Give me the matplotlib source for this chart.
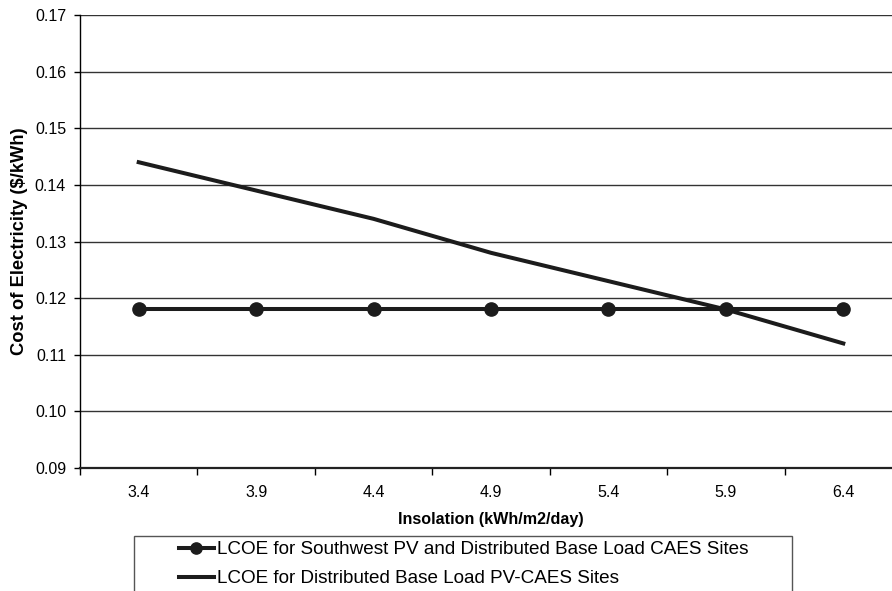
import matplotlib
matplotlib.use("Agg")
import matplotlib.pyplot as plt
from matplotlib.patches import Rectangle

plt.rcParams['font.family'] = ['Liberation Sans', 'DejaVu Sans']

insolation = ['3.4', '3.9', '4.4', '4.9', '5.4', '5.9', '6.4']
lcoe_southwest = [0.118, 0.118, 0.118, 0.118, 0.118, 0.118, 0.118]
lcoe_distributed = [0.144, 0.139, 0.134, 0.128, 0.123, 0.118, 0.112]
yticks = [0.09, 0.10, 0.11, 0.12, 0.13, 0.14, 0.15, 0.16, 0.17]

W, H = 892, 591
fig = plt.figure(figsize=(W / 100, H / 100), dpi=100)
ax = fig.add_axes([80 / W, 1 - 468 / H, (902 - 80) / W, (468 - 15) / H])

x = list(range(len(insolation)))
ax.plot(x, lcoe_southwest, color='#1c1c1c', lw=2.9, marker='o', ms=9.5,
        label='LCOE for Southwest PV and Distributed Base Load CAES Sites', zorder=3)
ax.plot(x, lcoe_distributed, color='#1c1c1c', lw=2.9,
        label='LCOE for Distributed Base Load PV-CAES Sites', zorder=3)

ax.set_xlim(-0.5, len(insolation) - 0.5)
ax.set_ylim(0.09, 0.17)
ax.set_yticks(yticks)
ax.set_yticklabels([f'{v:.2f}' for v in yticks], fontsize=11.5)
ax.set_xticks(x)
ax.set_xticklabels(insolation, fontsize=11.5)
ax.set_xticks([i + 0.5 for i in range(-1, len(insolation))], minor=True)
ax.tick_params(axis='x', which='major', length=0, pad=12)
ax.tick_params(axis='x', which='minor', length=5, width=1, direction='out')
ax.tick_params(axis='y', length=4, width=1, direction='out', pad=6)

ax.grid(axis='y', color='#333333', lw=1)
ax.set_axisbelow(True)
for s in ['top', 'right']:
    ax.spines[s].set_visible(False)
ax.spines['left'].set_linewidth(1)
ax.spines['bottom'].set_linewidth(1.6)
ax.spines['bottom'].set_color('#222222')

ax.set_xlabel('Insolation (kWh/m2/day)', fontsize=11.6, fontweight='bold', labelpad=9)
ax.set_ylabel('Cost of Electricity ($/kWh)', fontsize=13.2, fontweight='bold', labelpad=5)

# legend box runs off the bottom of the image
fig.patches.append(Rectangle((134 / W, -0.05), (792 - 134) / W, 1 - 536 / H + 0.05,
                             transform=fig.transFigure, fill=False,
                             edgecolor='#555555', lw=1))
handles, labels = ax.get_legend_handles_labels()
fig.legend(handles, labels, loc='upper left', bbox_to_anchor=(179 / W, 1 - 541 / H),
           frameon=False, fontsize=13.6, handlelength=1.85, handletextpad=0.18,
           labelspacing=0.62, borderpad=0, borderaxespad=0, markerscale=0.85)

fig.savefig('out.png', dpi=100)
